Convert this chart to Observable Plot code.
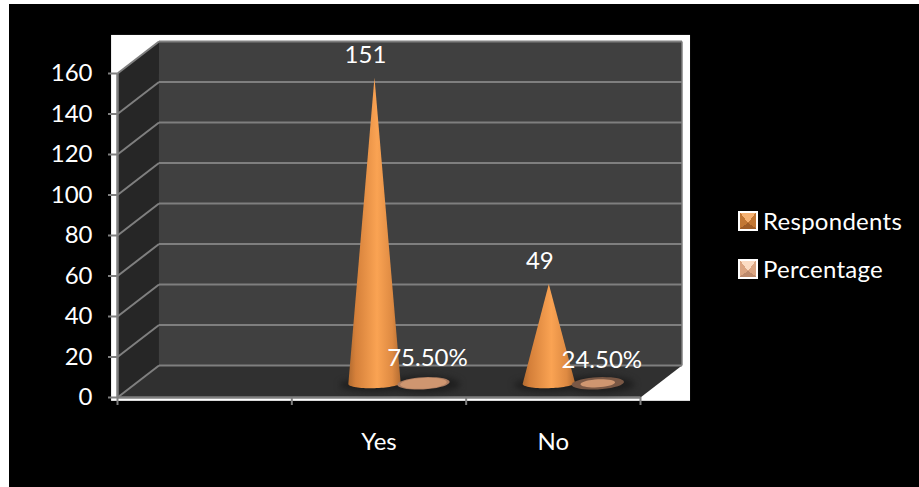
<!DOCTYPE html>
<html>
<head>
<meta charset="utf-8">
<script src="https://cdn.jsdelivr.net/npm/d3@7"></script>
<script src="https://cdn.jsdelivr.net/npm/@observablehq/plot@0.6"></script>
<style>
  html, body { margin: 0; padding: 0; background: #fff; overflow: hidden; }
  #panel { position: absolute; left: 9px; top: 4px; width: 910px; height: 483px; background: #000; }
  #chart { position: absolute; left: 0; top: 0; }
  #chart svg { display: block; background: transparent; }
  .key { position: absolute; left: 738px; display: flex; align-items: center; color: #fff;
         font: 24px Lato, sans-serif; line-height: 20px; letter-spacing: 0.27px; }
  .swatch { box-sizing: border-box; width: 20px; height: 20px; border: 2px solid #fff; margin-right: 5px; }
</style>
</head>
<body>
<div id="panel"></div>
<div id="chart"></div>
<div class="key" style="top:211px"><span class="swatch" style="background:conic-gradient(from -37deg at 50% 62%,#f6b273 0 74deg,#c27734 74deg 161deg,#9f5c26 161deg 273deg,#c27734 273deg)"></span>Respondents</div>
<div class="key" style="top:259px"><span class="swatch" style="background:conic-gradient(from -37deg at 50% 62%,#fbdcc4 0 74deg,#dba582 74deg 161deg,#bd8a6c 161deg 273deg,#dba582 273deg)"></span>Percentage</div>
<script>
const categories = ["Yes", "No"];
const respondents = [151, 49];
const percentage = [0.755, 0.245];
const valueTicks = [0, 20, 40, 60, 80, 100, 120, 140, 160];
const slotEdges = [0, 1, 2, 3];

// Oblique projection of the chart box: the back wall sits up and to the right of the front plane.
const depthX = 0.238, depthY = 15.8;
const floorY = 7, floorX = 0.105;          // plane on which the cones stand
const offsets = {Respondents: -0.131, Percentage: 0.15};
const maxX = 3, maxY = 160;

// Filled polygon rows for Plot.line
const polygon = (id, pts) => pts.map(([x, y]) => ({id, x, y}));
const arc = (cx, cy, rx, ry, tilt, t0, t1) =>
  d3.range(0, 37).map(i => {
    const t = t0 + (t1 - t0) * i / 36;
    return [cx + rx * Math.cos(t), cy + ry * Math.sin(t) + tilt * Math.cos(t)];
  });

const coneX = (i, s) => i + 1.5 + offsets[s] + floorX;
const coneY = v => v + floorY;

const cones = respondents.flatMap((v, i) => polygon(`cone${i}`, [
  [coneX(i, "Respondents"), coneY(v)],
  ...arc(coneX(i, "Respondents"), floorY, 0.15, 2.4, 0.35, 0, -Math.PI)
]));
const shadows = respondents.flatMap((v, i) => [
  ...polygon(`s${i}a`, arc(coneX(i, "Respondents"), floorY - 0.8, 0.2, 3.2, 0, 0, 2 * Math.PI)),
  ...polygon(`s${i}b`, arc(coneX(i, "Percentage"), floorY - 0.5, 0.21, 4.2, 0, 0, 2 * Math.PI))
]);
const discOuter = percentage.flatMap((v, i) => polygon(`outer${i}`,
  arc(coneX(i, "Percentage"), floorY, 0.15, 3, 0.7, 0, 2 * Math.PI)));
const discInner = percentage.flatMap((v, i) => polygon(`inner${i}`,
  arc(coneX(i, "Percentage"), floorY, 0.15 * (0.55 + 0.45 * v), 3 * (0.55 + 0.45 * v), 0.7 * (0.55 + 0.45 * v), 0, 2 * Math.PI)));

// Gradient referenced by the cone fill
const defs = () => {
  const ns = "http://www.w3.org/2000/svg";
  const d = document.createElementNS(ns, "defs");
  const g = document.createElementNS(ns, "linearGradient");
  g.setAttribute("id", "coneFill");
  [[0, "#b06a30"], [0.14, "#d5803a"], [0.55, "#faa353"], [0.84, "#de8a42"], [1, "#b36c32"]].forEach(([o, c]) => {
    const s = document.createElementNS(ns, "stop");
    s.setAttribute("offset", o);
    s.setAttribute("stop-color", c);
    g.appendChild(s);
  });
  d.appendChild(g);
  return d;
};

const chart = Plot.plot({
  width: 919,
  height: 487,
  marginLeft: 117,
  marginRight: 279,
  marginTop: 73,
  marginBottom: 90,
  x: {type: "linear", domain: [0, maxX]},
  y: {type: "linear", domain: [0, maxY]},
  style: {fontFamily: "Lato, sans-serif", background: "transparent", overflow: "visible"},
  marks: [
    defs,
    // White plot area behind the box
    Plot.rect([0], {x1: -0.034, x2: 3.287, y1: -1.9, y2: 178.8, fill: "#fff"}),
    // Side wall, back wall and floor
    Plot.line(polygon("side", [[0, 0], [0, maxY], [depthX, maxY + depthY], [depthX, depthY]]),
      {x: "x", y: "y", z: "id", fill: "#262626", stroke: "none"}),
    Plot.line(polygon("back", [[depthX, depthY], [depthX, maxY + depthY], [maxX + depthX, maxY + depthY], [maxX + depthX, depthY]]),
      {x: "x", y: "y", z: "id", fill: "#404040", stroke: "none"}),
    Plot.line(polygon("floor", [[0, 0], [depthX, depthY], [maxX + depthX, depthY], [maxX, 0]]),
      {x: "x", y: "y", z: "id", fill: "#303030", stroke: "none"}),
    // Gridlines wrap from the side wall onto the back wall
    Plot.link(valueTicks, {x1: 0, y1: d => d, x2: depthX, y2: d => d + depthY, stroke: "#7f7f7f", strokeWidth: 2}),
    Plot.link(valueTicks, {x1: depthX, y1: d => d + depthY, x2: maxX + depthX, y2: d => d + depthY, stroke: "#7f7f7f", strokeWidth: 2}),
    Plot.link([maxX + depthX], {x1: d => d, x2: d => d, y1: depthY, y2: maxY + depthY, stroke: "#7f7f7f", strokeWidth: 1.5}),
    // Front axis lines
    Plot.link([0], {x1: 0, x2: 0, y1: 0, y2: maxY, stroke: "#7f7f7f", strokeWidth: 2.5}),
    Plot.link([0], {x1: 0, x2: maxX, y1: 0, y2: 0, stroke: "#7f7f7f", strokeWidth: 2.5}),
    Plot.axisY({ticks: valueTicks, tickSize: 9, tickPadding: 16, color: "#fff", stroke: "#7f7f7f", strokeWidth: 2, fontSize: 24, label: null}),
    Plot.axisX({ticks: slotEdges, tickSize: 8, tickFormat: () => "", color: "#7f7f7f", strokeWidth: 2, label: null}),
    Plot.axisX({ticks: categories.map((_, i) => i + 1.5), tickSize: 0, tickPadding: 35, tickFormat: d => categories[d - 1.5], color: "#fff", fontSize: 24, label: null}),
    // Soft contact shadows
    Plot.line(shadows, {x: "x", y: "y", z: "id", fill: "#1e1e1e", stroke: "none", imageFilter: "blur(3px)"}),
    // Cones
    Plot.line(cones, {x: "x", y: "y", z: "id", fill: "url(#coneFill)", stroke: "none"}),
    // Percentage cones: their height is so small they read as discs
    Plot.line(discOuter.filter(d => d.id === "outer0"), {x: "x", y: "y", z: "id", fill: "#ac7c60", stroke: "none"}),
    Plot.line(discOuter.filter(d => d.id === "outer1"), {x: "x", y: "y", z: "id", fill: "#7a5845", stroke: "none"}),
    Plot.line(discInner, {x: "x", y: "y", z: "id", fill: "#cf9670", stroke: "none"}),
    // Value labels
    Plot.text(respondents, {x: (d, i) => coneX(i, "Respondents"), y: d => coneY(d), text: d => String(d), dx: -9, dy: -22.5, fill: "#fff", fontSize: 24}),
    Plot.text(percentage, {x: (d, i) => coneX(i, "Percentage"), y: d => coneY(d), text: d3.format(".2%"), dx: 4, dy: -23, fill: "#fff", fontSize: 24})
  ]
});
document.getElementById("chart").appendChild(chart);
</script>
</body>
</html>
